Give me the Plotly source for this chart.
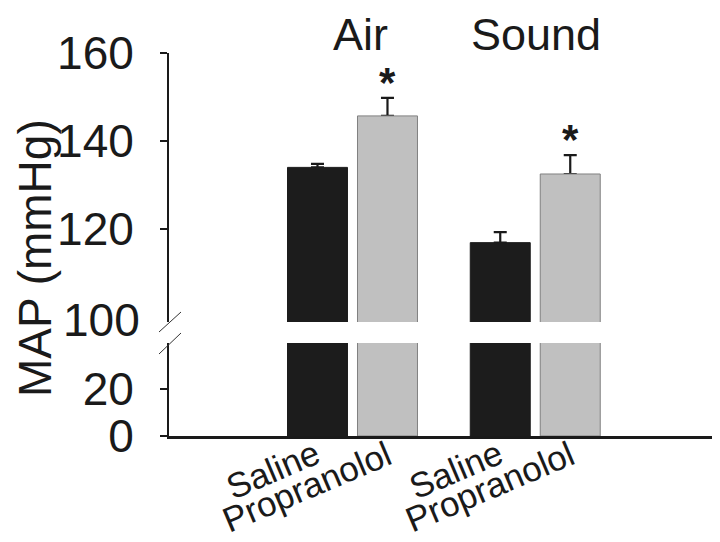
import plotly.graph_objects as go

# ---- data ----
groups = ["Air", "Sound"]
treatments = ["Saline", "Propranolol"]
saline = [134.0, 116.9]
saline_err = [0.8, 2.4]
propranolol = [145.7, 132.5]
propranolol_err = [4.1, 4.3]
significant = [True, True]          # asterisk above the Propranolol bar
lower_ticks = [0, 20]
upper_ticks = [120, 140, 160]
break_label = 100

# ---- style ----
FONT = "Liberation Sans"
INK = "#1a1a1a"
BLACK = "#1c1c1c"
GRAY = "#c0c0c0"
GRAY_EDGE = "#808080"

# the page places the figure 8px in from the top-left corner of the window
OFF = 8
W, H = 720, 542
# plot area on screen: x 169..719, y 53..436
L, R, T, B = 169 - OFF, W - (719 - OFF), 53 - OFF, H - (436 - OFF)
PW, PH = W - L - R, H - T - B


def px_x(x):
    """screen pixel x -> paper coordinate"""
    return (x - OFF - L) / PW


def px_y(y):
    """screen pixel y -> paper coordinate"""
    return (H - B - (y - OFF)) / PH


low_dom = [0, px_y(343)]
up_dom = [px_y(322), 1]
low_range = [0, 39.6]
up_range = [98.86, 160]

fig = go.Figure()

for yax in ["y", "y2"]:
    for name, vals, errs, col, edge, grp in [
        ("Saline", saline, saline_err, BLACK, BLACK, "sal"),
        ("Propranolol", propranolol, propranolol_err, GRAY, GRAY_EDGE, "pro"),
    ]:
        if yax == "y2":
            # error bars drawn first (under the bar) so only the upward arm shows
            fig.add_trace(go.Bar(
                x=groups, y=vals, yaxis=yax, offsetgroup=grp,
                marker=dict(color="rgba(0,0,0,0)", line=dict(width=0)),
                error_y=dict(type="data", array=errs, arrayminus=[0] * len(errs),
                             symmetric=False, color=INK, thickness=2.2, width=6.5),
                showlegend=False, hoverinfo="skip",
            ))
        fig.add_trace(go.Bar(
            x=groups, y=vals, yaxis=yax, offsetgroup=grp, name=name,
            marker=dict(color=col, line=dict(color=edge, width=1)),
            showlegend=False,
        ))

axis_common = dict(
    showline=True, linecolor=INK, linewidth=2, ticks="outside", ticklen=7,
    tickwidth=2, tickcolor=INK, showgrid=False, zeroline=False, automargin=False,
    tickfont=dict(family=FONT, size=46, color=INK), ticklabelstandoff=17,
)

fig.update_layout(
    template="none",
    width=W, height=H,
    margin=dict(l=L, r=R, t=T, b=B, pad=0, autoexpand=False),
    paper_bgcolor="white", plot_bgcolor="white",
    barmode="group", bargap=0.234, bargroupgap=0.143,
    font=dict(family=FONT, color=INK),
    xaxis=dict(type="category", categoryarray=groups, range=[-1.004, 2.0055],
               showline=True, linecolor=INK, linewidth=2.5, ticks="",
               showticklabels=False, showgrid=False, zeroline=False, anchor="y",
               automargin=False),
    yaxis=dict(domain=low_dom, range=low_range, tickvals=lower_ticks, **axis_common),
    yaxis2=dict(domain=up_dom, range=up_range, tickvals=upper_ticks, anchor="x",
                **axis_common),
)

ann = []
# group titles
for g, xs in zip(groups, [8.5, 1.0]):
    ann.append(dict(x=g, xref="x", y=px_y(35), yref="paper", text=g, showarrow=False,
                    xshift=xs, font=dict(family=FONT, size=45, color=INK),
                    xanchor="center", yanchor="middle"))
# treatment labels under the bars (rotated)
for g in groups:
    ann.append(dict(x=g, xref="x", y=px_y(469), yref="paper", text=treatments[0],
                    showarrow=False, xshift=-80, textangle=-23,
                    font=dict(family=FONT, size=35, color=INK),
                    xanchor="center", yanchor="middle"))
    ann.append(dict(x=g, xref="x", y=px_y(486), yref="paper", text=treatments[1],
                    showarrow=False, xshift=-46, textangle=-23,
                    font=dict(family=FONT, size=35, color=INK),
                    xanchor="center", yanchor="middle"))
# significance asterisks
for g, v, e, s in zip(groups, propranolol, propranolol_err, significant):
    if s:
        ann.append(dict(x=g, xref="x", y=v + e, yref="y2", text="<b>*</b>", showarrow=False,
                        xshift=35, yshift=-10, font=dict(family=FONT, size=42, color=INK),
                        xanchor="center", yanchor="bottom"))
# "100" label at the break
ann.append(dict(x=px_x(142), xref="paper", y=break_label, yref="y2", text=str(break_label),
                showarrow=False, xanchor="right", yanchor="middle", yshift=-3,
                font=dict(family=FONT, size=46, color=INK)))
# y-axis title
ann.append(dict(x=px_x(35), xref="paper", y=px_y(258), yref="paper", text="MAP (mmHg)",
                showarrow=False, textangle=-90, xanchor="center", yanchor="middle",
                font=dict(family=FONT, size=46, color=INK)))
fig.update_layout(annotations=ann)

# axis-break marks
shapes = []
for (x0, y0, x1, y1) in [(159, 332, 181, 312), (159, 354, 181, 333)]:
    shapes.append(dict(type="line", xref="paper", yref="paper",
                       x0=px_x(x0), y0=px_y(y0), x1=px_x(x1), y1=px_y(y1),
                       line=dict(color="#333333", width=1)))
fig.update_layout(shapes=shapes)

fig.write_html("out.html")
